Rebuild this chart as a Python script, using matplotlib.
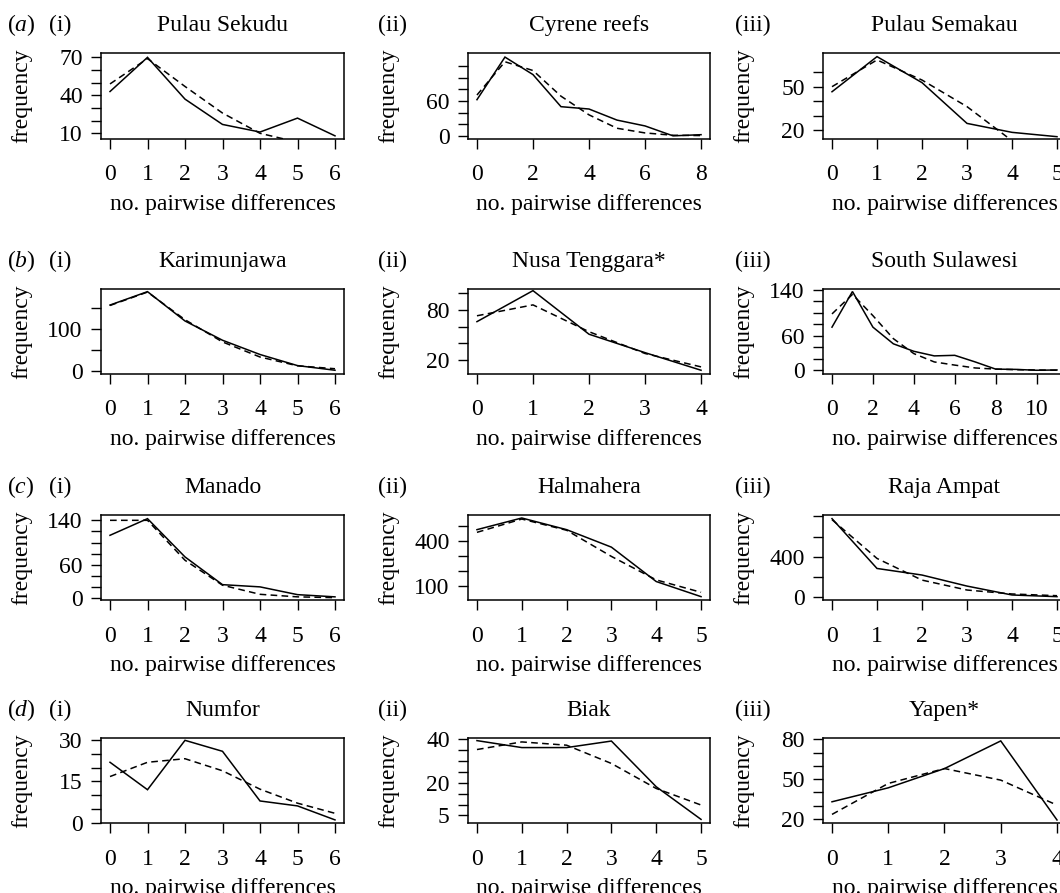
import matplotlib
matplotlib.use("Agg")
import matplotlib.pyplot as plt
import numpy as np

plt.rcParams['font.family'] = ['Liberation Serif', 'DejaVu Serif']
plt.rcParams['mathtext.fontset'] = 'custom'
plt.rcParams['mathtext.rm'] = 'Liberation Serif'
plt.rcParams['mathtext.it'] = 'Liberation Serif:italic'
plt.rcParams['lines.scale_dashes'] = False

# ---------------- data ----------------
row_letters = ['a', 'b', 'c', 'd']
col_numerals = ['i', 'ii', 'iii']

titles = [
    ['Pulau Sekudu', 'Cyrene reefs', 'Pulau Semakau'],
    ['Karimunjawa', 'Nusa Tenggara*', 'South Sulawesi'],
    ['Manado', 'Halmahera', 'Raja Ampat'],
    ['Numfor', 'Biak', 'Yapen*'],
]

# observed (solid) and expected (dashed) mismatch distributions
sekudu_obs = [43, 70, 37, 17, 11, 22, 8]
sekudu_exp = [49, 69, 47, 26, 10, 3, 1]
cyrene_obs = [62, 135, 105, 50, 46, 27, 17, 0, 2]
cyrene_exp = [70, 127, 112, 68, 36, 13, 5, 1, 0.5]
semakau_obs = [46.5, 70.8, 52.8, 24.6, 18.4, 15.4]
semakau_exp = [50, 68.5, 54.6, 36.2, 12.6, 5]

karimunjawa_obs = [158, 190, 120, 74, 40, 13.5, 2.4]
karimunjawa_exp = [157, 189, 123, 70, 34, 13, 6]
nusa_obs = [66, 103, 51, 29, 8]
nusa_exp = [73, 86, 54, 28, 12]
sulawesi_obs = [75, 137, 75, 46, 33, 25, 26, 14.5, 2, 1.5, 0, 0.5]
sulawesi_exp = [98, 132, 95, 55, 29, 14.5, 9, 4, 2, 1, 0.5, 0]

manado_obs = [113, 143, 74, 24, 20, 6, 2]
manado_exp = [140, 140, 68, 23, 6.6, 2, 0.6]
halmahera_obs = [474, 552, 474, 357, 127, 26]
halmahera_exp = [456, 545, 470, 295, 138, 55]
raja_obs = [777, 285, 220, 111, 23, 6.5]
raja_exp = [767, 384, 170, 72, 33, 16]

numfor_obs = [22, 12, 30, 26, 7.9, 6.1, 1]
numfor_exp = [16.8, 22, 23.3, 18.9, 12.2, 7.1, 3.4]
biak_obs = [39.4, 36.2, 36.2, 39.2, 18.2, 3.2]
biak_exp = [35.3, 38.8, 37.3, 28.9, 17.4, 9.8]
yapen_obs = [33, 43.5, 58, 78.8, 19.3]
yapen_exp = [23.5, 46.8, 58, 49.3, 30.5]

observed = [
    [sekudu_obs, cyrene_obs, semakau_obs],
    [karimunjawa_obs, nusa_obs, sulawesi_obs],
    [manado_obs, halmahera_obs, raja_obs],
    [numfor_obs, biak_obs, yapen_obs],
]
expected = [
    [sekudu_exp, cyrene_exp, semakau_exp],
    [karimunjawa_exp, nusa_exp, sulawesi_exp],
    [manado_exp, halmahera_exp, raja_exp],
    [numfor_exp, biak_exp, yapen_exp],
]

# y tick positions and which of them carry labels
yticks = [
    [list(range(10, 71, 10)), list(range(0, 121, 20)), list(range(20, 61, 10))],
    [[0, 50, 100, 150], [20, 40, 60, 80, 100], list(range(0, 141, 20))],
    [list(range(0, 141, 20)), list(range(100, 501, 100)), list(range(0, 801, 200))],
    [list(range(0, 31, 5)), list(range(5, 41, 5)), list(range(20, 81, 10))],
]
ylabels_shown = [
    [[10, 40, 70], [0, 60], [20, 50]],
    [[0, 100], [20, 80], [0, 60, 140]],
    [[0, 60, 140], [100, 400], [0, 400]],
    [[0, 15, 30], [5, 20, 40], [20, 50, 80]],
]
xtick_step = [
    [1, 2, 1],
    [1, 1, 2],
    [1, 1, 1],
    [1, 1, 1],
]
ylims = [
    [(5.5, 73.2), (-5.4, 141.5), (13.8, 73.1)],
    [(-5.6, 196.8), (4, 105.2), (-5.8, 141.7)],
    [(-4.2, 149.6), (1.5, 572), (-29.5, 813)],
    [(-0.24, 30.85), (1.4, 40.6), (16.8, 81)],
]

# ---------------- layout (pixels) ----------------
W, H = 1060, 893
col_left = [101, 468, 823]
col_width = [243, 242, 243]
row_top = [53.3, 288.8, 515, 738]
row_height = [85.7, 84.8, 85.3, 85.3]
numeral_x = [49, 378, 735]
letter_x = 7
FS = 17

fig = plt.figure(figsize=(W / 100, H / 100), dpi=100)


def fx(x):
    return x / W


def fy(y):
    return 1 - y / H


for r in range(4):
    for c in range(3):
        L, T = col_left[c], row_top[r]
        w, h = col_width[c], row_height[r]
        ax = fig.add_axes([fx(L), fy(T + h), w / W, h / H])
        obs = observed[r][c]
        exp = expected[r][c]
        x = np.arange(len(obs))
        ax.plot(x, obs, color='black', lw=1.1, solid_joinstyle='miter')
        ax.plot(x, exp, color='black', lw=1.1, linestyle=(0, (4.8, 3.1)))
        n = len(obs) - 1
        ax.set_xlim(-0.04 * n, n * 1.04)
        ax.set_ylim(*ylims[r][c])
        xt = list(range(0, n + 1, xtick_step[r][c]))
        ax.set_xticks(xt)
        ax.set_xticklabels([str(v) for v in xt])
        yt = yticks[r][c]
        ax.set_yticks(yt)
        ax.set_yticklabels([str(v) if v in ylabels_shown[r][c] else '' for v in yt])
        ax.tick_params(axis='both', direction='out', length=7.2, width=1.0,
                       labelsize=FS, colors='black')
        ax.tick_params(axis='x', pad=11.0)
        ax.tick_params(axis='y', pad=6)
        for sp in ax.spines.values():
            sp.set_linewidth(1.1)
        ax.set_facecolor('none')

        cx = L + w / 2
        # title
        fig.text(fx(cx), fy(T - 22), titles[r][c], ha='center', va='baseline', fontsize=FS)
        # panel numerals
        fig.text(fx(numeral_x[c]), fy(T - 22), '(%s)' % col_numerals[c],
                 ha='left', va='baseline', fontsize=FS)
        if c == 0:
            fig.text(fx(letter_x), fy(T - 22), r'($\mathit{%s}$)' % row_letters[r],
                     ha='left', va='baseline', fontsize=FS)
        # x label
        fig.text(fx(cx), fy(T + h + 71), 'no. pairwise differences',
                 ha='center', va='baseline', fontsize=FS)
        # y label
        fig.text(fx(L - 69), fy(T + h / 2), 'frequency', rotation=90,
                 ha='right', va='center', fontsize=FS)

fig.savefig('out.png', dpi=100)
